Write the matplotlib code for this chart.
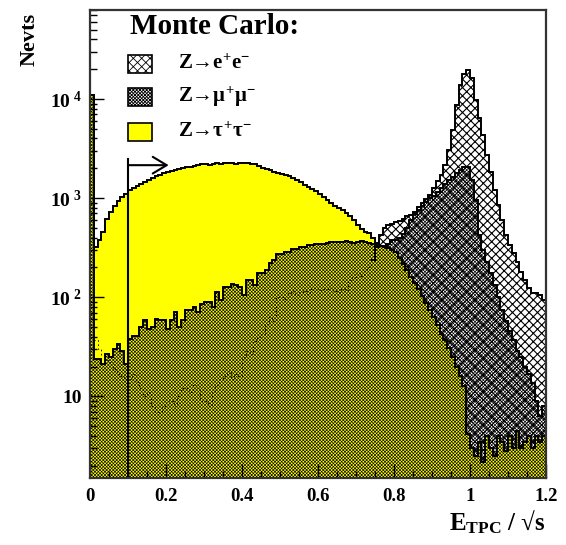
import numpy as np
import matplotlib
matplotlib.use("Agg")
import matplotlib.pyplot as plt
from matplotlib.patches import Rectangle
from matplotlib.ticker import FixedLocator, NullFormatter, LogLocator

plt.rcParams['font.family'] = ['Liberation Serif', 'DejaVu Serif']
plt.rcParams['font.weight'] = 'bold'
plt.rcParams['mathtext.fontset'] = 'custom'
plt.rcParams['mathtext.rm'] = 'Liberation Serif:bold'
plt.rcParams['mathtext.it'] = 'Liberation Serif:bold'
plt.rcParams['mathtext.bf'] = 'Liberation Serif:bold'

# 120 bins of 0.01 in E_TPC / sqrt(s)
bin_width = 0.01
n_bins = 120

# Z -> tau tau (yellow)
tau = [11000, 322, 377, 454, 614, 722, 830, 933, 1020, 1100,
       1200, 1260, 1320, 1380, 1450, 1520, 1590, 1670, 1710, 1790,
       1830, 1880, 1920, 1960, 2010, 2060, 2060, 2100, 2150, 2200,
       2200, 2150, 2200, 2250, 2200, 2250, 2250, 2260, 2200, 2250,
       2260, 2250, 2200, 2200, 2100, 2010, 1960, 1920, 1830, 1790,
       1750, 1710, 1670, 1590, 1520, 1450, 1350, 1290, 1230, 1180,
       1100, 1020, 953, 890, 830, 793, 757, 706, 660, 600,
       535, 488, 454, 444, 396, 354, 330, 320, 314, 300,
       286, 250, 216, 188, 160, 139, 121, 103, 87, 74,
       63, 52, 43, 37, 31, 25, 20, 16, 12.6, 4.2,
       3, 2.5, 3.5, 2.2, 4, 3, 2.5, 4, 3.5, 2.8,
       4, 3, 4.5, 3, 3.5, 4, 3, 4, 3.5, 4]

# Z -> mu mu (dense hatch)
mumu = [11000, 24, 24, 21, 27, 25, 30, 34, 29, 21,
        38, 41, 41, 50, 59, 48, 50, 61, 59, 59,
        48, 59, 71, 50, 59, 74, 74, 80, 71, 85,
        89, 89, 80, 113, 93, 127, 127, 137, 132, 127,
        105, 149, 149, 132, 174, 174, 188, 219, 237, 276,
        276, 287, 287, 310, 310, 322, 322, 335, 335, 343,
        343, 343, 350, 362, 362, 362, 360, 365, 360, 355,
        360, 365, 360, 350, 345, 335, 325, 330, 345, 377,
        377, 396, 436, 500, 600, 689, 757, 830, 910, 1000,
        1050, 1150, 1260, 1380, 1520, 1630, 1790, 1920, 2060, 2060,
        1520, 953, 420, 300, 226, 174, 132, 100, 74, 58,
        46, 37, 29, 25, 20, 17, 13.5, 9, 6.4, 8]

# Z -> e e (light hatch)
ee = [30, 37, 30, 26, 23, 22, 19, 17, 16, 15,
      15, 17, 14, 12, 10, 11, 8, 7, 7, 8,
      9, 9, 8, 10, 12, 12, 11, 13, 12, 9,
      9, 8, 11, 13, 15, 16, 18, 15, 17, 16,
      25, 29, 27, 36, 40, 43, 54, 63, 58, 100,
      100, 95, 110, 115, 105, 112, 115, 108, 120, 125,
      118, 122, 120, 125, 115, 112, 120, 118, 150, 160,
      175, 165, 185, 200, 240, 320, 420, 500, 535, 550,
      573, 585, 615, 660, 673, 722, 811, 890, 977, 1070,
      1260, 1490, 1710, 2150, 3050, 4860, 8700, 13850, 17900, 19600,
      16300, 9770, 6430, 4330, 2720, 1830, 1200, 850, 600, 423,
      335, 278, 226, 179, 149, 123, 110, 110, 105, 93]

CUT = 0.1
CUT_TOP = 2480
ARROW_Y = 2150
ARROW_END = 0.207
YMIN, YMAX = 1.5, 8.0e4

edges = np.arange(n_bins + 1) * bin_width
base = 1e-3
mu_hatch = 'xxxxxxxxxx'
e_hatch = 'xxxx'
tau_a = np.array(tau, dtype=float)
ee_a = np.array(ee, dtype=float)

fig = plt.figure(figsize=(5.66, 5.45), dpi=100)
ax = fig.add_axes([90 / 566, 1 - 478 / 545, 456 / 566, 468.5 / 545])
ax.set_yscale('log')

# fills: yellow first, hatches drawn over it (transparent)
ax.stairs(tau, edges, baseline=base, fill=True, facecolor='#ffff00', edgecolor='none', lw=0)
with plt.rc_context({'hatch.linewidth': 0.45}):
    ax.stairs(mumu, edges, baseline=base, fill=True, facecolor='none', edgecolor='black',
              hatch=mu_hatch, lw=0)
# e hatch only shows above the yellow tau fill
with plt.rc_context({'hatch.linewidth': 0.8}):
    ax.stairs(np.maximum(ee_a, tau_a), edges, baseline=tau_a, fill=True, facecolor='none',
              edgecolor='black', hatch=e_hatch, lw=0)

# outlines
ax.stairs(ee[:75], edges[:76], baseline=None, color='black', lw=0.6, ls=(0, (2, 3)))
ax.stairs(ee[74:], edges[74:], baseline=None, color='black', lw=1.4)
ax.stairs(mumu, edges, baseline=None, color='black', lw=1.4)
ax.stairs(tau, edges, baseline=None, color='black', lw=1.4)

# cut line with arrow
ax.plot([CUT, CUT], [YMIN, CUT_TOP], color='black', lw=1.5)
ax.annotate('', xy=(ARROW_END, ARROW_Y), xytext=(CUT, ARROW_Y),
            arrowprops=dict(arrowstyle='->,head_length=1.0,head_width=0.6', lw=1.5, color='black',
                            shrinkA=0, shrinkB=0))

ax.set_xlim(0, 1.2)
ax.set_ylim(YMIN, YMAX)

ax.xaxis.set_major_locator(FixedLocator([0, 0.2, 0.4, 0.6, 0.8, 1.0, 1.2]))
ax.set_xticklabels(['0', '0.2', '0.4', '0.6', '0.8', '1', '1.2'], fontsize=13.5, fontweight='bold')
ax.xaxis.set_minor_locator(FixedLocator(np.arange(0, 1.21, 0.05)))

ax.yaxis.set_major_locator(FixedLocator([10, 100, 1000, 10000]))
ax.set_yticklabels(['10', r'$10^{\ 2}$', r'$10^{\ 3}$', r'$10^{\ 4}$'], fontsize=14)
ax.yaxis.set_minor_locator(LogLocator(base=10, subs=np.arange(2, 10), numticks=20))
ax.yaxis.set_minor_formatter(NullFormatter())

ax.tick_params(which='both', direction='in', top=False, right=False, width=1, color='black')
ax.tick_params(which='major', length=10)
ax.tick_params(which='minor', length=5)
ax.tick_params(axis='x', pad=7)
ax.tick_params(axis='y', pad=6)
for s in ax.spines.values():
    s.set_linewidth(1.6)
    s.set_color('#333333')

fig.text(30 / 566, 1 - 39 / 545, 'Nevts', rotation=90, ha='center', va='center',
         fontsize=16, fontweight='bold')
fig.text(546 / 566, 1 - 522 / 545, r'$\mathrm{E_{TPC}}$ / √s', ha='right', va='center',
         fontsize=18, fontweight='bold')

# legend drawn by hand
fig.text(130 / 566, 1 - 27 / 545, 'Monte Carlo:', ha='left', va='center',
         fontsize=21, fontweight='bold')
leg_labels = [r'$\mathrm{Z}→\mathrm{e}^{+}\mathrm{e}^{-}$',
              r'$\mathrm{Z}→\mu^{+}\mu^{-}$',
              r'$\mathrm{Z}→\tau^{+}\tau^{-}$']
leg_styles = [dict(facecolor='white', hatch=e_hatch),
              dict(facecolor='white', hatch=mu_hatch),
              dict(facecolor='#ffff00', hatch=None)]
leg_y = [64, 97, 132]
for lab, st, yy in zip(leg_labels, leg_styles, leg_y):
    with plt.rc_context({'hatch.linewidth': 0.6}):
        r = Rectangle((128 / 566, 1 - (yy + 9) / 545), 24 / 566, 18 / 545,
                      transform=fig.transFigure, edgecolor='black', lw=1.2, **st)
    fig.add_artist(r)
    fig.text(178 / 566, 1 - yy / 545, lab, ha='left', va='center', fontsize=15)

fig.savefig('out.png', dpi=100)
